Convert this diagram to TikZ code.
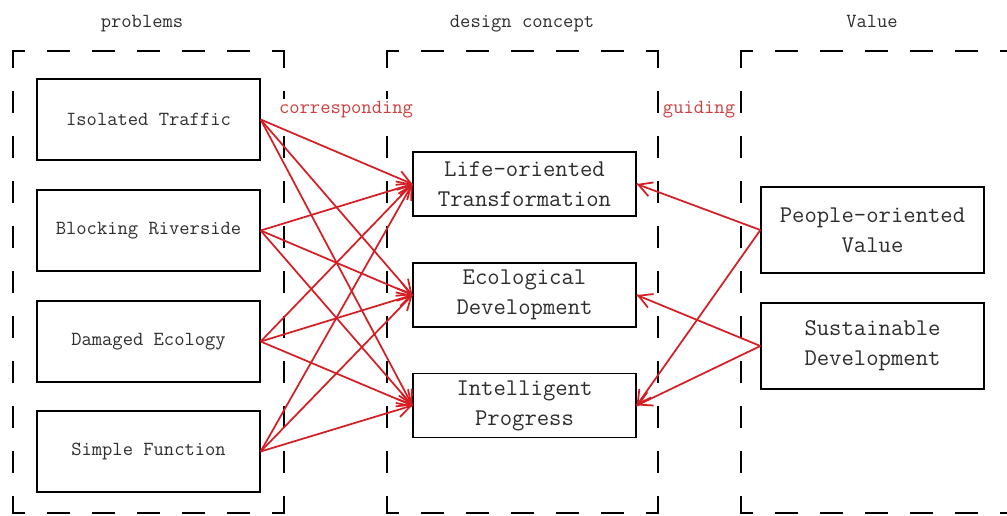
\documentclass[tikz,border=0pt]{standalone}
\usepackage{fontspec}
\usepackage{tikz}
\usetikzlibrary{decorations.markings,arrows.meta}
\definecolor{linkred}{RGB}{212,30,36}
\definecolor{labelred}{RGB}{206,62,62}
\definecolor{textgray}{RGB}{45,45,45}
\tikzstyle{group}=[line width=1.8pt, line cap=rect, dash pattern=on 15.2pt off 18.55pt]
\tikzstyle{heading}=[anchor=base, inner sep=1pt, text=textgray, font=\ttfamily\fontsize{15}{17}\selectfont]
\tikzstyle{relation}=[anchor=base, fill=white, inner sep=1pt, text=labelred, font=\ttfamily\fontsize{15}{17}\selectfont]
\tikzstyle{problem}=[draw, line width=1.2pt, inner sep=0pt, minimum width=167pt, minimum height=60.75pt, text=textgray, font=\ttfamily\fontsize{15}{17}\selectfont]
\tikzstyle{concept}=[draw, line width=1.2pt, inner sep=0pt, minimum width=167pt, minimum height=48pt, align=center, text=textgray, font=\ttfamily\fontsize{18}{22.5}\selectfont]
\tikzstyle{value}=[concept, minimum height=64.5pt]
\providecommand{\problem}{\node[problem]}
\providecommand{\concept}{\node[concept]}

\begin{document}
\begin{tikzpicture}[x=0.75pt, y=-0.75pt,
    every edge/.style={
        draw=linkred, line width=1.3pt,
        postaction={decorate,
                    decoration={markings,mark=at position 1 with {\arrow[linkred, line width=1.3pt]{Straight Barb[length=10pt,width=11pt]}}}
                   }
        }
]
\useasboundingbox (0,0) rectangle (1007,515);
\clip (0,0) rectangle (1007,515);
% the three dashed columns, one side at a time
\foreach \xa/\xb in {13/284, 387/658, 741/1012} {
    \draw[group, dash phase=7.2pt] (\xa,51) -- (\xb,51);
    \draw[group, dash phase=7.2pt] (\xa,513) -- (\xb,513);
    \draw[group, dash phase=3.1pt] (\xa,51) -- (\xa,513);
    \draw[group, dash phase=3.1pt] (\xb,51) -- (\xb,513);
}
\node[heading] (hprob) at (142,27) {problems};
\node[heading] (hconc) at (522,27) {design concept};
\node[heading] (hval) at (872,27) {Value};
\problem (traffic) at (148.5,119.5) {Isolated Traffic};
\problem (river) at (148.5,230.5) {Blocking Riverside};
\problem (ecol) at (148.5,341.5) {Damaged Ecology};
\problem (func) at (148.5,451.5) {Simple Function};
\concept (life) at (524.5,184) {Life-oriented\\Transformation};
\concept (eco) at (524.5,295) {Ecological\\Development};
\concept (intel) at (524.5,405.5) {Intelligent\\Progress};
\node[value] (people) at (872.5,230) {People-oriented\\Value};
\node[value] (sust) at (872.5,346) {Sustainable\\Development};
\path
(traffic.east) edge (life.west)
(traffic.east) edge (eco.west)
(traffic.east) edge (intel.west)
(river.east) edge (life.west)
(river.east) edge (eco.west)
(river.east) edge (intel.west)
(ecol.east) edge (life.west)
(ecol.east) edge (eco.west)
(ecol.east) edge (intel.west)
(func.east) edge (life.west)
(func.east) edge (eco.west)
(func.east) edge (intel.west)
(people.west) edge (life.east)
(people.west) edge (intel.east)
(sust.west) edge (eco.east)
(sust.west) edge (intel.east)
;
\node[relation] (corr) at (346,113) {corresponding};
\node[relation] (guide) at (699,113) {guiding};
\end{tikzpicture}
\end{document}
